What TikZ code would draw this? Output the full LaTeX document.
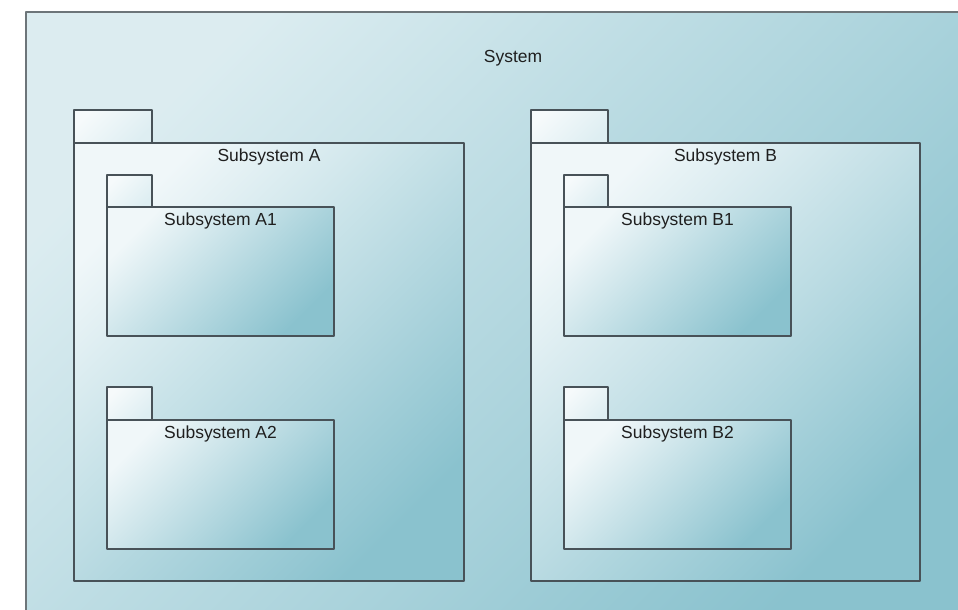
\documentclass[tikz,border=0pt]{standalone}
\usepackage{fontspec}
\setmainfont{Liberation Sans}
\definecolor{edge}{RGB}{72,82,88}
\definecolor{lite}{RGB}{240,247,249}
\definecolor{dark}{RGB}{138,194,206}
\definecolor{tablite}{RGB}{246,250,251}
\definecolor{tabdark}{RGB}{222,238,242}
\tikzset{
  pkgfill/.style={top color=lite, bottom color=dark, shading angle=45},
  tabfill/.style={top color=tablite, bottom color=tabdark, shading angle=45},
  pkgline/.style={draw=edge, line width=1.9pt, line join=round},
  pkglabel/.style={font=\fontsize{13.1}{15}\selectfont, text=black!88, inner sep=0pt, anchor=center}
}
% #1 name, #2 x1, #3 y1 (body top), #4 x2, #5 y2, #6 tab right, #7 tab top, #8 label
\newcommand\umlpkg[8]{%
  \shade[tabfill] (#2,#7) rectangle (#6,#3);
  \shade[pkgfill] (#2,#3) rectangle (#4,#5);
  \draw[pkgline] (#2,#3) -- (#2,#7) -- (#6,#7) -- (#6,#3);
  \draw[pkgline] (#2,#3) rectangle (#4,#5);
  \node[pkglabel] (#1) at ({(#2+#4)/2},{#3+14}) {#8};
}
\begin{document}
\begin{tikzpicture}[x=0.75pt,y=-0.75pt]
\useasboundingbox (0,0) rectangle (958,610);
\clip (0,0) rectangle (958,610);
\fill[white] (0,0) rectangle (958,610);
% System frame
\shade[top color=lite!80!dark, bottom color=dark, shading angle=45] (26,12) rectangle (980,640);
\draw[pkgline, draw=edge!80] (26,640) -- (26,12) -- (980,12);
\node[pkglabel] (system) at (513,58) {System};
% Subsystem A
\umlpkg{subA}{74}{143}{464}{581}{152}{110}{Subsystem A}
\umlpkg{subA1}{107}{207}{334}{336}{152}{175}{Subsystem A1}
\umlpkg{subA2}{107}{420}{334}{549}{152}{387}{Subsystem A2}
% Subsystem B
\umlpkg{subB}{531}{143}{920}{581}{608}{110}{Subsystem B}
\umlpkg{subB1}{564}{207}{791}{336}{608}{175}{Subsystem B1}
\umlpkg{subB2}{564}{420}{791}{549}{608}{387}{Subsystem B2}
\end{tikzpicture}
\end{document}
